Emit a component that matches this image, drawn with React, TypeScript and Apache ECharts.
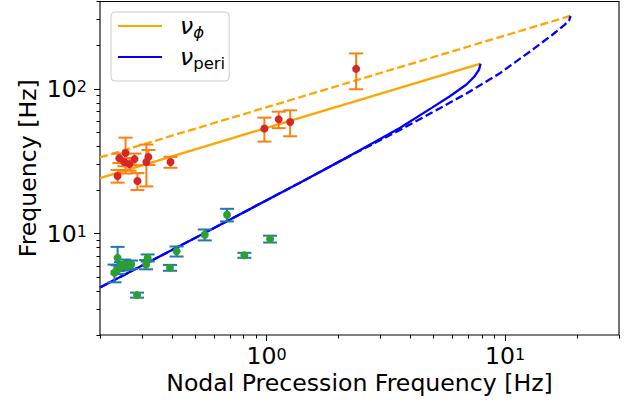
import React, { useEffect, useRef } from "react";
import * as echarts from "echarts";

// ---- axis ranges & ticks ----
const xRange = [0.2, 30];
const yRange = [2, 400];
const xMajorTicks = [1, 10];
const xMinorTicks = [0.2, 0.3, 0.4, 0.5, 0.6, 0.7, 0.8, 0.9, 2, 3, 4, 5, 6, 7, 8, 9, 20, 30];
const yMajorTicks = [10, 100];
const yMinorTicks = [2, 3, 4, 5, 6, 7, 8, 9, 20, 30, 40, 50, 60, 70, 80, 90, 200, 300, 400];

// ---- model curves ----
const phiSolidX = [0.2, 1.0, 7.88];
const phiSolidY = [24.2, 53.8, 149];
const phiDashX = [0.2, 1.0, 18.79];
const phiDashY = [33.6, 74.6, 318.6];
const periSolidX = [0.2, 0.522, 1.372, 2.223, 3.6, 4.955, 5.84, 6.88, 7.43, 7.77, 7.88];
const periSolidY = [4.25, 9.69, 22.4, 34.3, 53.4, 74.4, 88.5, 107.0, 121.5, 135.7, 149];
const periDashX = [0.2, 0.522, 1.372, 2.223, 3.6, 4.955, 6.88, 9.46, 13.02, 15.78, 17.73, 18.52, 18.79];
const periDashY = [4.25, 9.69, 22.4, 34.3, 51.7, 68.8, 92.8, 127.3, 186.1, 235.9, 276.3, 294.3, 318.6];

// ---- observed nu_phi ----
const phiObsX = [0.237, 0.241, 0.253, 0.256, 0.266, 0.279, 0.287, 0.313, 0.319, 0.395, 0.978, 1.123, 1.254, 2.371];
const phiObsY = [25.0, 33.2, 31.2, 36.0, 30.2, 32.7, 23.1, 31.2, 33.8, 31.2, 53.2, 61.5, 59.0, 137.2];
const phiObsErr = [2.5, 2.5, 2.0, 10, 3, 3, 3.1, 10, 4, 2.7, 10, 8, 12, 38];

// ---- observed nu_peri ----
const periObsX = [0.23, 0.237, 0.237, 0.245, 0.2525, 0.261, 0.27, 0.286, 0.312, 0.3167, 0.393, 0.419, 0.55, 0.682, 0.806, 1.033];
const periObsY = [5.37, 5.66, 6.81, 5.97, 6.13, 5.97, 6.13, 3.77, 6.13, 6.81, 5.82, 7.56, 9.84, 13.5, 7.1, 9.19];
const periObsErr = [0.75, 0.4, 1.3, 0.4, 0.5, 0.35, 0.4, 0.15, 0.45, 0.38, 0.27, 0.6, 0.85, 1.35, 0.28, 0.5];

const FONT = "DejaVu Sans";
const FS = 23.6;

const zip = (xs: number[], ys: number[]) => xs.map((x, i) => [x, ys[i]]);

const supRich = {
  b: { fontFamily: FONT, fontSize: FS, lineHeight: 20, color: "#000" },
  s: { fontFamily: FONT, fontSize: 16, lineHeight: 10, verticalAlign: "top", color: "#000" },
};
const supFmt = (v: number) => `{b|10}{s|${Math.round(Math.log10(v))}}`;

const errSeries = (name: string, xs: number[], ys: number[], es: number[], color: string) => ({
  type: "custom",
  name,
  xAxisIndex: 0,
  yAxisIndex: 0,
  silent: true,
  z: 3,
  data: xs.map((x, i) => [x, ys[i], es[i]]),
  encode: { x: 0, y: 1 },
  renderItem: (_p: any, api: any) => {
    const x = api.value(0);
    const y = api.value(1);
    const e = api.value(2);
    const top = api.coord([x, y + e]);
    const bot = api.coord([x, y - e]);
    const hw = 7;
    const style = { stroke: color, lineWidth: 2, fill: "none" };
    return {
      type: "group",
      children: [
        { type: "line", shape: { x1: top[0], y1: top[1], x2: bot[0], y2: bot[1] }, style },
        { type: "line", shape: { x1: top[0] - hw, y1: top[1], x2: top[0] + hw, y2: top[1] }, style },
        { type: "line", shape: { x1: bot[0] - hw, y1: bot[1], x2: bot[0] + hw, y2: bot[1] }, style },
      ],
    };
  },
});

export default function App() {
  const ref = useRef<HTMLDivElement>(null);
  useEffect(() => {
    const chart = echarts.init(ref.current!, null, { renderer: "svg" });
    const tickLine = { color: "#000", width: 1 };
    const option: any = {
      animation: false,
      backgroundColor: "#fff",
      grid: {
        left: 100,
        right: 19,
        top: 1.5,
        bottom: 70,
        show: true,
        borderColor: "#000",
        borderWidth: 1.1,
        containLabel: false,
        outerBoundsMode: "none",
      },
      legend: {
        orient: "vertical",
        left: 111,
        top: 12,
        padding: [2, 4, 9, 7],
        itemGap: 4,
        itemWidth: 44,
        itemHeight: 2.2,
        icon: "rect",
        selectedMode: false,
        backgroundColor: "rgba(255,255,255,0.8)",
        borderColor: "#cccccc",
        borderWidth: 1,
        borderRadius: 4,
        itemStyle: { borderWidth: 0 },
        data: ["ν_φ", "ν_peri"],
        formatter: (name: string) => (name === "ν_φ" ? "{n|ν}{s|ϕ}" : "{n|ν}{r|peri}"),
        textStyle: {
          color: "#000",
          rich: {
            n: { fontFamily: FONT, fontStyle: "italic", fontSize: FS, lineHeight: 30, padding: [0, 0, 0, 13], color: "#000" },
            s: { fontFamily: FONT, fontStyle: "italic", fontSize: 16.5, lineHeight: 16, verticalAlign: "bottom", color: "#000" },
            r: { fontFamily: FONT, fontSize: 16.5, lineHeight: 16, verticalAlign: "bottom", color: "#000" },
          },
        },
      },
      xAxis: [
        {
          type: "log",
          logBase: 10,
          min: xRange[0],
          max: xRange[1],
          position: "bottom",
          axisLine: { show: false },
          axisTick: { show: true, customValues: xMajorTicks, length: 6, lineStyle: tickLine },
          axisLabel: { customValues: xMajorTicks, formatter: supFmt, rich: supRich, margin: 11 },
          splitLine: { show: false },
          minorTick: { show: false },
          name: "Nodal Precession Frequency [Hz]",
          nameLocation: "middle",
          nameGap: 35,
          nameMoveOverlap: false,
          nameTextStyle: { fontFamily: FONT, fontSize: FS, color: "#000", lineHeight: 26 },
        },
        {
          type: "log",
          logBase: 10,
          min: xRange[0],
          max: xRange[1],
          position: "bottom",
          offset: 0,
          axisLine: { show: false },
          axisTick: { show: true, customValues: xMinorTicks, length: 3.5, lineStyle: tickLine },
          axisLabel: { show: false },
          splitLine: { show: false },
        },
      ],
      yAxis: [
        {
          type: "log",
          logBase: 10,
          min: yRange[0],
          max: yRange[1],
          position: "left",
          axisLine: { show: false },
          axisTick: { show: true, customValues: yMajorTicks, length: 6, lineStyle: tickLine },
          axisLabel: { customValues: yMajorTicks, formatter: supFmt, rich: supRich, margin: 13 },
          splitLine: { show: false },
          minorTick: { show: false },
          name: "Frequency [Hz]",
          nameLocation: "middle",
          nameGap: 59,
          nameMoveOverlap: false,
          nameTextStyle: { fontFamily: FONT, fontSize: FS, color: "#000", lineHeight: 26 },
        },
        {
          type: "log",
          logBase: 10,
          min: yRange[0],
          max: yRange[1],
          position: "left",
          offset: 0,
          axisLine: { show: false },
          axisTick: { show: true, customValues: yMinorTicks, length: 3.5, lineStyle: tickLine },
          axisLabel: { show: false },
          splitLine: { show: false },
        },
      ],
      series: [
        {
          type: "line",
          name: "ν_φ",
          data: zip(phiSolidX, phiSolidY),
          symbol: "none",
          color: "#ffa500",
          itemStyle: { color: "#ffa500" },
          lineStyle: { color: "#ffa500", width: 2.3 },
          z: 2,
          silent: true,
        },
        {
          type: "line",
          name: "ν_peri",
          data: zip(periSolidX, periSolidY),
          symbol: "none",
          color: "#0000ff",
          itemStyle: { color: "#0000ff" },
          lineStyle: { color: "#0000ff", width: 2.3 },
          z: 2,
          silent: true,
        },
        {
          type: "line",
          name: "ν_φ dashed",
          data: zip(phiDashX, phiDashY),
          symbol: "none",
          lineStyle: { color: "#ffa500", width: 2.3, type: [8, 3.5] },
          z: 2,
          silent: true,
        },
        {
          type: "line",
          name: "ν_peri dashed",
          data: zip(periDashX, periDashY),
          symbol: "none",
          lineStyle: { color: "#0000ff", width: 2.3, type: [8, 3.5] },
          z: 2,
          silent: true,
        },
        errSeries("ν_φ error", phiObsX, phiObsY, phiObsErr, "#ff7f0e"),
        {
          type: "scatter",
          name: "ν_φ obs",
          data: zip(phiObsX, phiObsY),
          symbol: "circle",
          symbolSize: 8,
          itemStyle: { color: "#d62728", opacity: 1 },
          z: 4,
          silent: true,
        },
        errSeries("ν_peri error", periObsX, periObsY, periObsErr, "#1f77b4"),
        {
          type: "scatter",
          name: "ν_peri obs",
          data: zip(periObsX, periObsY),
          symbol: "circle",
          symbolSize: 8,
          itemStyle: { color: "#2ca02c", opacity: 1 },
          z: 4,
          silent: true,
        },
      ],
    };
    chart.setOption(option);
    return () => chart.dispose();
  }, []);
  return (
    <div
      ref={ref}
      style={{ position: "fixed", left: 0, top: 0, width: 638, height: 405, background: "#fff" }}
    />
  );
}
